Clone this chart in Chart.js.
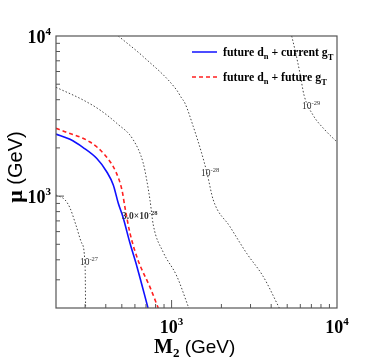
<!DOCTYPE html>
<html>
<head>
<meta charset="utf-8">
<script src="https://cdn.jsdelivr.net/npm/chart.js@4.4.1/dist/chart.umd.min.js"></script>
<style>
  html, body { margin: 0; padding: 0; background: #fff; }
  canvas { display: block; }
</style>
</head>
<body>
<canvas id="edm-chart" width="374" height="363"></canvas>
<script>
// axis range (GeV)
const m2Range = [200, 10000];
const muRange = [200, 10000];

// future d_n + current g_T (solid blue)
const currentM2 = [200, 243, 292, 352, 405, 444, 476, 508, 560, 618, 720];
const currentMu = [2440, 2263, 2010, 1722, 1420, 1173, 902, 740, 509, 361, 200];

// future d_n + future g_T (dashed red)
const futureM2 = [200, 229, 321, 395, 461, 501, 523, 560, 626, 740, 830];
const futureMu = [2650, 2515, 2177, 1806, 1413, 1092, 843, 588, 399, 270, 200];

// EDM contours (dotted)
const c27M2 = [200, 227, 243, 264, 286, 300, 302];
const c27Mu = [1016, 946, 843, 659, 509, 361, 200];

const c3e28M2 = [200, 292, 369, 466, 587, 674, 707, 740, 775, 887, 1074, 1270];
const c3e28Mu = [4781, 3982, 3449, 2849, 2241, 1603, 1261, 946, 660, 449, 317, 200];

const c28M2 = [476, 674, 1073, 1140, 1205, 1353, 1520, 1637, 1786, 2254, 2844, 3584, 4478];
const c28Mu = [10000, 7428, 4597, 4150, 3799, 2713, 1851, 1394, 946, 644, 439, 314, 200];

const c29M2 = [5322, 5573, 5972, 6317, 7160, 8456, 10000];
const c29Mu = [10000, 8180, 5848, 4279, 3210, 2588, 2176];

// tick values
const majorTicks = [1000, 10000];
const minorTicks = [200, 300, 400, 500, 600, 700, 800, 900, 2000, 3000, 4000, 5000, 6000, 7000, 8000, 9000];

// contour label text and where it sits (data units)
const contourLabels = [
    { mant: '10', exp: '-27', m2: 279, mu: 387, bold: false },
    { mant: '3.0\u00d710', exp: '-28', m2: 501, mu: 751, bold: true },
    { mant: '10', exp: '-28', m2: 1506, mu: 1394, bold: false },
    { mant: '10', exp: '-29', m2: 6141, mu: 3653, bold: false }
];

const legendItems = [
    { parts: ['future d', 'n', ' + current g', 'T'], color: '#1010ff', dash: [] },
    { parts: ['future d', 'n', ' + future g', 'T'], color: '#ff2020', dash: [4, 3] }
];

function pts(xs, ys) {
    return xs.map((x, i) => ({ x: x, y: ys[i] }));
}

function contour(xs, ys) {
    return {
        data: pts(xs, ys),
        showLine: true,
        borderColor: '#444',
        borderWidth: 1,
        borderDash: [1.5, 2],
        pointRadius: 0,
        cubicInterpolationMode: 'monotone'
    };
}

// draw a run of pieces (with sub/superscripts) left to right
function drawRuns(ctx, runs, x, y) {
    let cx = x;
    runs.forEach(r => {
        ctx.font = r.font;
        ctx.fillText(r.t, cx, y + (r.dy || 0));
        cx += ctx.measureText(r.t).width;
    });
    return cx - x;
}

function runsWidth(ctx, runs) {
    let w = 0;
    runs.forEach(r => { ctx.font = r.font; w += ctx.measureText(r.t).width; });
    return w;
}

const serifB = (s) => 'bold ' + s + 'px "Liberation Serif", "Times New Roman", serif';
const serif = (s) => s + 'px "Liberation Serif", "Times New Roman", serif';
const sans = (s) => s + 'px "Liberation Sans", Arial, sans-serif';

function powRuns(exp) {
    return [
        { t: '10', font: serifB(18) },
        { t: exp, font: serifB(11), dy: -8 }
    ];
}

const decorations = {
    id: 'decorations',
    afterDatasetsDraw(chart) {
        const ctx = chart.ctx;
        const xs = chart.scales.x, ys = chart.scales.y;
        ctx.save();
        ctx.fillStyle = '#333';
        ctx.textBaseline = 'alphabetic';
        contourLabels.forEach(l => {
            const px = xs.getPixelForValue(l.m2);
            const py = ys.getPixelForValue(l.mu) + 3;
            drawRuns(ctx, [
                { t: l.mant, font: l.bold ? serifB(9.5) : serif(9.5) },
                { t: l.exp, font: l.bold ? serifB(6.5) : serif(6.5), dy: -4 }
            ], px, py);
        });
        ctx.restore();
    },
    afterDraw(chart) {
        const ctx = chart.ctx;
        const a = chart.chartArea;
        const xs = chart.scales.x, ys = chart.scales.y;
        ctx.save();

        // frame
        ctx.strokeStyle = '#555';
        ctx.lineWidth = 1.2;
        ctx.strokeRect(a.left, a.top, a.right - a.left, a.bottom - a.top);

        // inward ticks
        ctx.lineWidth = 1;
        ctx.beginPath();
        const tick = (v, len) => {
            const px = xs.getPixelForValue(v);
            if (px > a.left + 0.5 && px < a.right - 0.5) {
                ctx.moveTo(px, a.bottom);
                ctx.lineTo(px, a.bottom - len);
            }
            const py = ys.getPixelForValue(v);
            if (py > a.top + 0.5 && py < a.bottom - 0.5) {
                ctx.moveTo(a.left, py);
                ctx.lineTo(a.left + len, py);
            }
        };
        minorTicks.forEach(v => tick(v, 4));
        majorTicks.forEach(v => tick(v, 8));
        ctx.stroke();

        // tick labels
        ctx.fillStyle = '#000';
        ctx.textBaseline = 'alphabetic';
        majorTicks.forEach(v => {
            const exp = String(Math.round(Math.log10(v)));
            const runs = powRuns(exp);
            const w = runsWidth(ctx, runs);
            drawRuns(ctx, runs, xs.getPixelForValue(v) - w / 2, a.bottom + 25);
            drawRuns(ctx, runs, a.left - 5 - w, ys.getPixelForValue(v) + 7);
        });

        // x title
        drawRuns(ctx, [
            { t: 'M', font: serifB(20) },
            { t: '2', font: serifB(13), dy: 4 },
            { t: ' (GeV)', font: sans(19) }
        ], 154, 353);

        // y title
        const yRuns = [
            { t: '\u03bc', font: serifB(22) },
            { t: ' (GeV)', font: sans(20) }
        ];
        const yw = runsWidth(ctx, yRuns);
        ctx.save();
        ctx.translate(22, 167);
        ctx.rotate(-Math.PI / 2);
        drawRuns(ctx, yRuns, -yw / 2, 0);
        ctx.restore();

        // legend
        legendItems.forEach((it, i) => {
            const ly = 52 + i * 25;
            ctx.strokeStyle = it.color;
            ctx.lineWidth = 1.5;
            ctx.setLineDash(it.dash);
            ctx.beginPath();
            ctx.moveTo(192, ly);
            ctx.lineTo(217, ly);
            ctx.stroke();
            ctx.setLineDash([]);
            ctx.fillStyle = '#000';
            drawRuns(ctx, [
                { t: it.parts[0], font: serifB(11.8) },
                { t: it.parts[1], font: serifB(8.5), dy: 3 },
                { t: it.parts[2], font: serifB(11.8) },
                { t: it.parts[3], font: serifB(8.5), dy: 4 }
            ], 223, ly + 4);
        });

        ctx.restore();
    }
};

document.addEventListener('DOMContentLoaded', () => {
    const ctx = document.getElementById('edm-chart').getContext('2d');
    new Chart(ctx, {
        type: 'scatter',
        data: {
            datasets: [
                contour(c27M2, c27Mu),
                contour(c3e28M2, c3e28Mu),
                contour(c28M2, c28Mu),
                contour(c29M2, c29Mu),
                {
                    label: 'future d_n + future g_T',
                    data: pts(futureM2, futureMu),
                    showLine: true,
                    borderColor: '#ff2020',
                    borderWidth: 1.6,
                    borderDash: [4, 3],
                    pointRadius: 0,
                    cubicInterpolationMode: 'monotone'
                },
                {
                    label: 'future d_n + current g_T',
                    data: pts(currentM2, currentMu),
                    showLine: true,
                    borderColor: '#1010ff',
                    borderWidth: 1.6,
                    pointRadius: 0,
                    cubicInterpolationMode: 'monotone'
                }
            ]
        },
        options: {
            responsive: false,
            animation: false,
            devicePixelRatio: 1,
            layout: { padding: { left: 56, top: 36, right: 37, bottom: 55 } },
            plugins: {
                legend: { display: false },
                tooltip: { enabled: false }
            },
            scales: {
                x: { type: 'logarithmic', min: m2Range[0], max: m2Range[1], display: false },
                y: { type: 'logarithmic', min: muRange[0], max: muRange[1], display: false }
            }
        },
        plugins: [decorations]
    });
});
</script>
</body>
</html>
